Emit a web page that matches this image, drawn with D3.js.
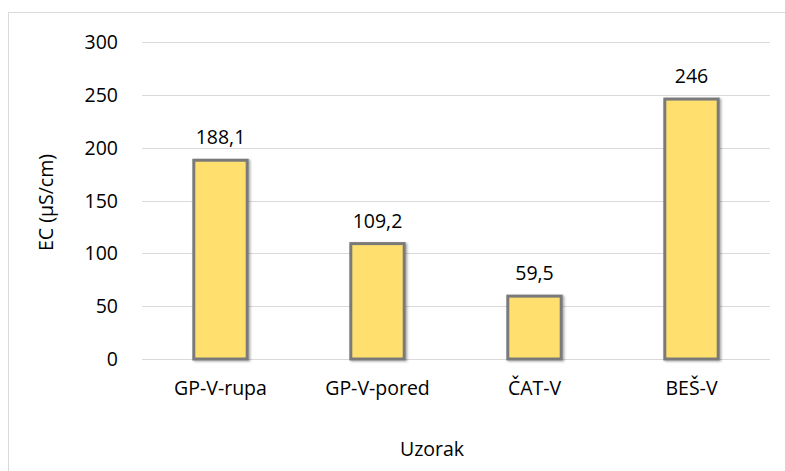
<!DOCTYPE html>
<html>
<head>
<meta charset="utf-8">
<script src="https://cdn.jsdelivr.net/npm/d3@7/dist/d3.min.js"></script>
<style>
  html, body { margin: 0; padding: 0; background: #fff; }
  svg { display: block; font-family: "Open Sans", "Noto Sans", sans-serif; }
</style>
</head>
<body>
<svg id="chart" width="785" height="471"></svg>
<script>
// Sample identifiers and measured electrical conductivity
const categories = ["GP-V-rupa", "GP-V-pored", "ČAT-V", "BEŠ-V"];
const ecValues = [188.1, 109.2, 59.5, 246];
const valueLabels = ["188,1", "109,2", "59,5", "246"];
const yTicks = [0, 50, 100, 150, 200, 250, 300];

const FONT = "'Open Sans', sans-serif";
const FS = 19.5;

const svg = d3.select("#chart");

// Chart frame
svg.append("rect")
  .attr("x", 8.5).attr("y", 12.5)
  .attr("width", 800).attr("height", 500)
  .attr("fill", "#fff").attr("stroke", "#d9d9d9").attr("stroke-width", 1);

const plot = { left: 142, right: 770, top: 42, bottom: 359 };

const x = d3.scaleBand()
  .domain(categories)
  .range([plot.left, plot.right])
  .paddingInner(0.66).paddingOuter(0.33);

const y = d3.scaleLinear().domain([0, 300]).range([plot.bottom, plot.top]);

// Horizontal gridlines
svg.append("g")
  .selectAll("line")
  .data(yTicks)
  .join("line")
  .attr("x1", plot.left).attr("x2", plot.right)
  .attr("y1", d => Math.round(y(d)) + 0.5).attr("y2", d => Math.round(y(d)) + 0.5)
  .attr("stroke", "#d9d9d9").attr("stroke-width", 1);

// Y axis tick labels
const yAxis = d3.axisLeft(y).tickValues(yTicks).tickSize(0).tickPadding(0);
const gy = svg.append("g").attr("transform", `translate(${plot.left - 24},0)`).call(yAxis);
gy.select(".domain").remove();
gy.selectAll("text").attr("font-size", FS).attr("fill", "#000")
  .attr("font-family", FONT).attr("dy", "0.34em");

// X axis category labels
const xAxis = d3.axisBottom(x).tickSize(0).tickPadding(0);
const gx = svg.append("g").attr("transform", `translate(0,${plot.bottom + 36})`).call(xAxis);
gx.select(".domain").remove();
gx.selectAll("text").attr("font-size", FS).attr("fill", "#000")
  .attr("font-family", FONT).attr("dy", 0);

// Soft shadow for the bars
const defs = svg.append("defs");
const f = defs.append("filter").attr("id", "shadow")
  .attr("x", "-20%").attr("y", "-10%").attr("width", "150%").attr("height", "130%");
f.append("feDropShadow").attr("dx", 1.5).attr("dy", 1).attr("stdDeviation", 1.2)
  .attr("flood-color", "#000").attr("flood-opacity", 0.35);

const data = categories.map((c, i) => ({ c, v: ecValues[i], label: valueLabels[i] }));

// Bars
svg.append("g")
  .selectAll("rect")
  .data(data)
  .join("rect")
  .attr("x", d => x(d.c))
  .attr("y", d => y(d.v))
  .attr("width", x.bandwidth())
  .attr("height", d => y(0) - y(d.v))
  .attr("fill", "#ffe06e")
  .attr("stroke", "#7a7a7a")
  .attr("stroke-width", 3)
  .attr("filter", "url(#shadow)");

// Value labels above bars
svg.append("g")
  .selectAll("text")
  .data(data)
  .join("text")
  .attr("x", d => x(d.c) + x.bandwidth() / 2)
  .attr("y", d => y(d.v) - 16)
  .attr("text-anchor", "middle")
  .attr("font-size", FS)
  .attr("font-family", FONT)
  .attr("fill", "#000")
  .text(d => d.label);

// Axis titles
svg.append("text")
  .attr("transform", `translate(53,${(plot.top + plot.bottom) / 2 + 2}) rotate(-90)`)
  .attr("text-anchor", "middle")
  .attr("font-size", FS)
  .attr("font-family", FONT)
  .attr("fill", "#000")
  .text("EC (µS/cm)");

svg.append("text")
  .attr("x", 432)
  .attr("y", 456)
  .attr("text-anchor", "middle")
  .attr("font-size", FS)
  .attr("font-family", FONT)
  .attr("fill", "#000")
  .text("Uzorak");
</script>
</body>
</html>
